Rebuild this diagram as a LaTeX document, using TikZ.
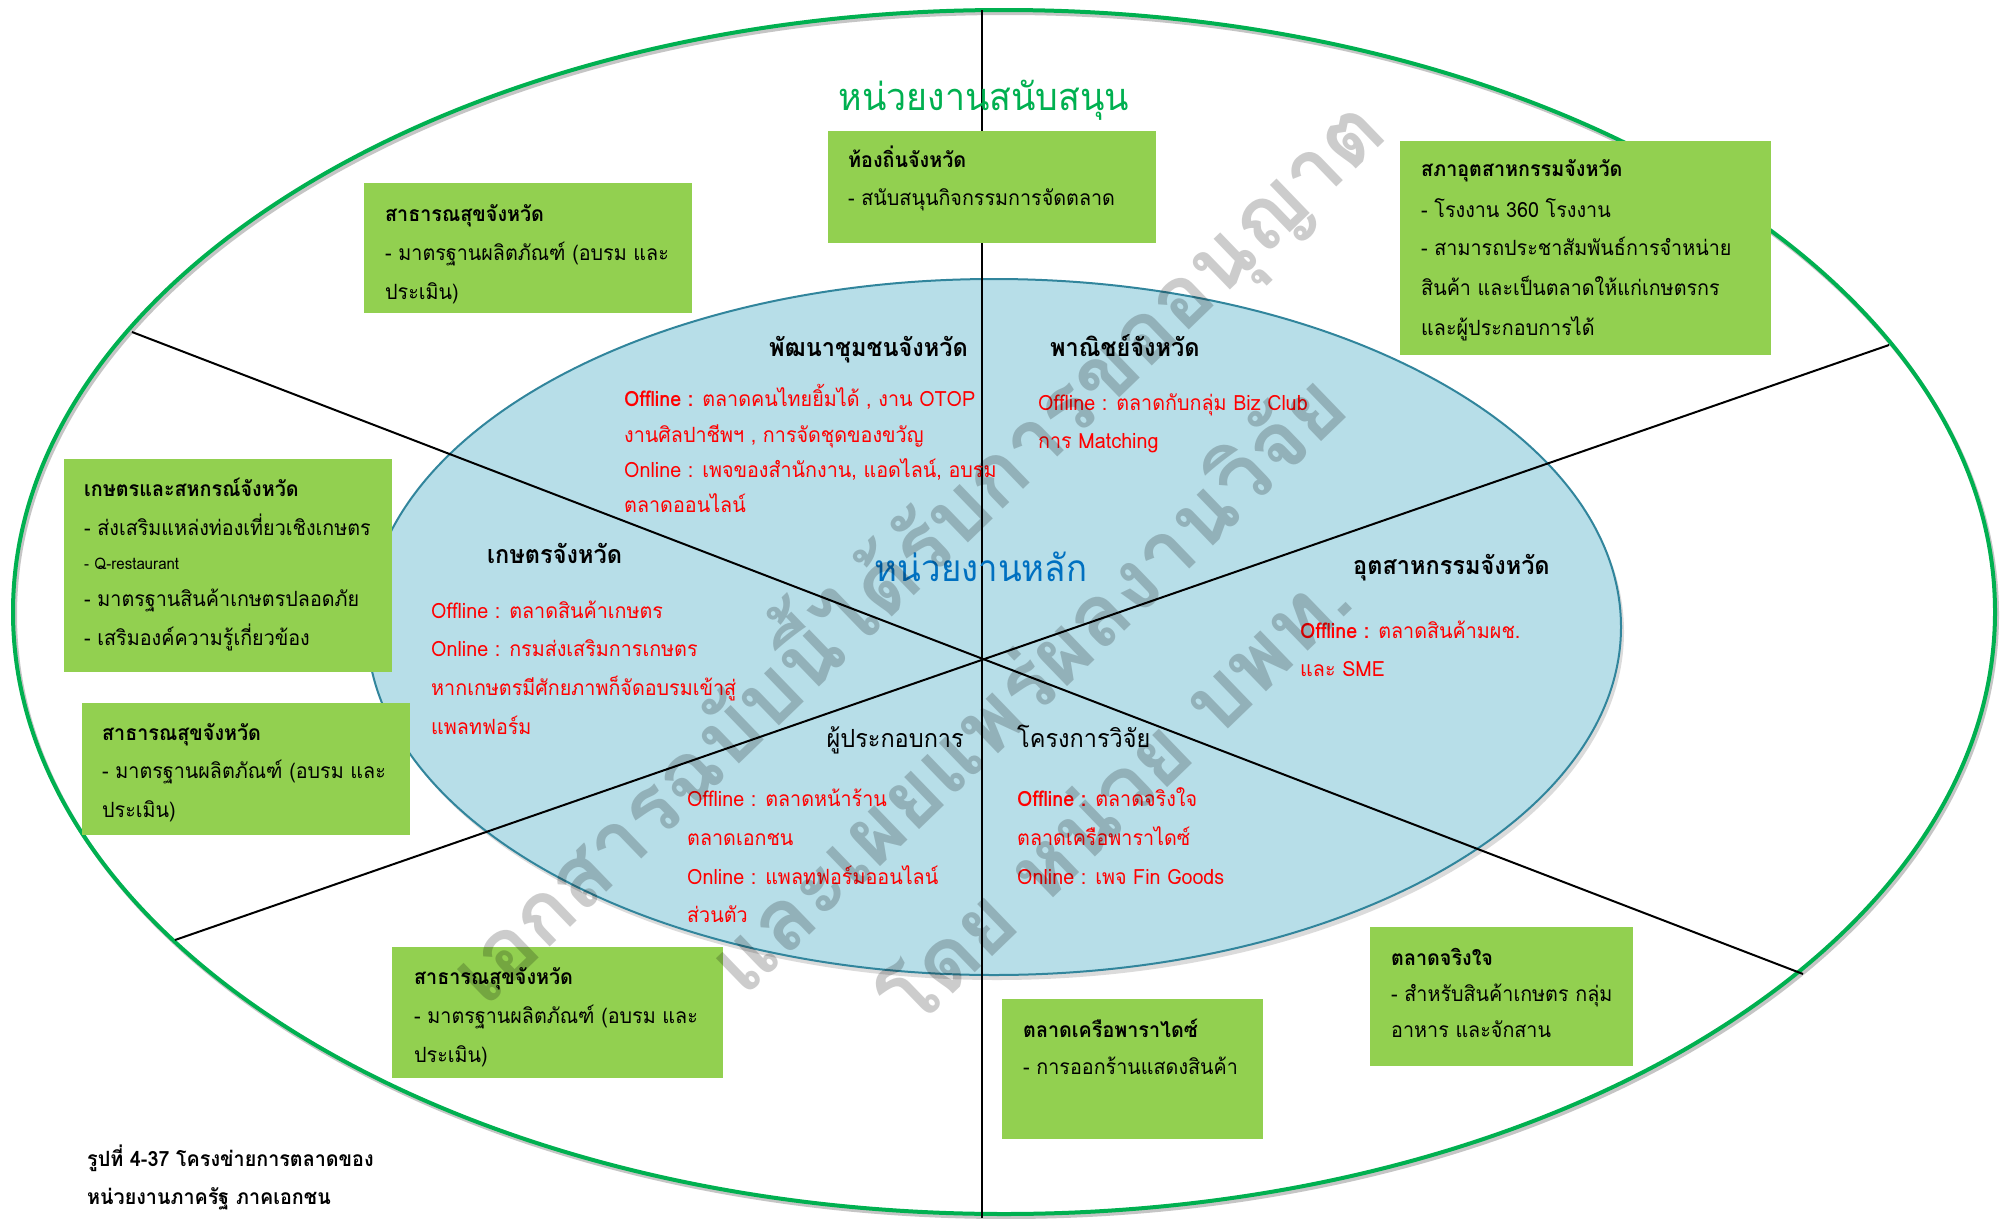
\documentclass[tikz,border=0pt]{standalone}
\usepackage{fontspec}
\setmainfont[Script=Thai, FakeStretch=0.94]{Loma}
\newfontfamily\markfont[Script=Thai]{Loma}
\definecolor{ringgreen}{RGB}{0,176,80}
\definecolor{boxgreen}{RGB}{146,208,80}
\definecolor{corefill}{RGB}{183,222,232}
\definecolor{coreline}{RGB}{49,133,156}
\definecolor{hubblue}{RGB}{0,112,192}
\definecolor{offred}{RGB}{255,0,0}
\tikzset{
  unitbox/.style={fill=boxgreen, draw=none, anchor=north west, inner sep=0pt},
  boxtitle/.style={anchor=base west, inner sep=0pt, font=\fontsize{21}{25}\selectfont\bfseries},
  boxline/.style={anchor=base west, inner sep=0pt, font=\fontsize{21}{25}\selectfont},
  smallline/.style={anchor=base west, inner sep=0pt, font=\fontsize{16}{20}\selectfont},
  corehead/.style={anchor=base west, inner sep=0pt, font=\fontsize{25}{30}\selectfont\bfseries},
  coreplain/.style={anchor=base west, inner sep=0pt, font=\fontsize{25}{30}\selectfont},
  redline/.style={anchor=base west, inner sep=0pt, text=offred, font=\fontsize{21}{25}\selectfont},
  caption/.style={anchor=base west, inner sep=0pt, font=\fontsize{21}{25}\selectfont\bfseries},
  stamp/.style={inner sep=0pt, rotate=44, text=black, text opacity=0.2, font=\markfont\bfseries\fontsize{86}{94}\selectfont},
  divider/.style={draw=black, line width=2pt},
}
\begin{document}
\begin{tikzpicture}[x=1pt,y=-1pt]
\useasboundingbox (0,0) rectangle (2005,1218);
\fill[white] (0,0) rectangle (2005,1218);

% outer ring of supporting agencies
\draw[black!45, opacity=0.5, line width=4pt] (1006,615) ellipse [x radius=991pt, y radius=602pt];
\draw[ringgreen, line width=4pt] (1004,612) ellipse [x radius=991pt, y radius=602pt];

% inner core of main agencies
\fill[black!40, opacity=0.35] (997,632) ellipse [x radius=627pt, y radius=348pt];
\filldraw[fill=corefill, draw=coreline, line width=2pt] (994,627) ellipse [x radius=627pt, y radius=348pt];

% sector dividers
\coordinate (topend) at (982,10);
\coordinate (botend) at (982,1218);
\coordinate (nwend) at (132,332);
\coordinate (seend) at (1803,974);
\coordinate (swend) at (175,940);
\coordinate (neend) at (1889,345);
\draw[black, line width=1.5pt] (topend) -- (botend);
\draw[divider] (nwend) -- (seend);
\draw[divider] (swend) -- (neend);

% ring title
\node[anchor=base, inner sep=0pt, text=ringgreen, font=\fontsize{38}{42}\selectfont] (ringtitle) at (984,110) {หน่วยงานสนับสนุน};

% supporting agency boxes
\node[unitbox, minimum width=328pt, minimum height=130pt] (health1) at (364,183) {};
\node[boxtitle] (health1t) at (385,221) {สาธารณสุขจังหวัด};
\node[boxline] (health1a) at (385,260) {- มาตรฐานผลิตภัณฑ์ (อบรม และ};
\node[boxline] (health1b) at (385,299) {ประเมิน)};

\node[unitbox, minimum width=328pt, minimum height=112pt] (local) at (828,131) {};
\node[boxtitle] (localt) at (848,167) {ท้องถิ่นจังหวัด};
\node[boxline] (locala) at (848,205) {- สนับสนุนกิจกรรมการจัดตลาด};

\node[unitbox, minimum width=371pt, minimum height=214pt] (fti) at (1400,141) {};
\node[boxtitle] (ftit) at (1421,176) {สภาอุตสาหกรรมจังหวัด};
\node[boxline] (ftia) at (1421,217) {- โรงงาน 360 โรงงาน};
\node[boxline] (ftib) at (1421,255) {- สามารถประชาสัมพันธ์การจำหน่าย};
\node[boxline] (ftic) at (1421,295) {สินค้า และเป็นตลาดให้แก่เกษตรกร};
\node[boxline] (ftid) at (1421,335) {และผู้ประกอบการได้};

\node[unitbox, minimum width=328pt, minimum height=213pt] (coop) at (64,459) {};
\node[boxtitle] (coopt) at (84,496) {เกษตรและสหกรณ์จังหวัด};
\node[boxline] (coopa) at (84,535) {- ส่งเสริมแหล่งท่องเที่ยวเชิงเกษตร};
\node[smallline] (coopb) at (84,569) {- Q-restaurant};
\node[boxline] (coopc) at (84,606) {- มาตรฐานสินค้าเกษตรปลอดภัย};
\node[boxline] (coopd) at (84,645) {- เสริมองค์ความรู้เกี่ยวข้อง};

\node[unitbox, minimum width=328pt, minimum height=132pt] (health2) at (82,703) {};
\node[boxtitle] (health2t) at (102,740) {สาธารณสุขจังหวัด};
\node[boxline] (health2a) at (102,778) {- มาตรฐานผลิตภัณฑ์ (อบรม และ};
\node[boxline] (health2b) at (102,817) {ประเมิน)};

\node[unitbox, minimum width=331pt, minimum height=131pt] (health3) at (392,947) {};
\node[boxtitle] (health3t) at (414,984) {สาธารณสุขจังหวัด};
\node[boxline] (health3a) at (414,1023) {- มาตรฐานผลิตภัณฑ์ (อบรม และ};
\node[boxline] (health3b) at (414,1062) {ประเมิน)};

\node[unitbox, minimum width=261pt, minimum height=140pt] (paradise) at (1002,999) {};
\node[boxtitle] (paradiset) at (1023,1037) {ตลาดเครือพาราไดซ์};
\node[boxline] (paradisea) at (1023,1074) {- การออกร้านแสดงสินค้า};

\node[unitbox, minimum width=263pt, minimum height=139pt] (jingjai) at (1370,927) {};
\node[boxtitle] (jingjait) at (1391,965) {ตลาดจริงใจ};
\node[boxline] (jingjaia) at (1391,1001) {- สำหรับสินค้าเกษตร กลุ่ม};
\node[boxline] (jingjaib) at (1391,1037) {อาหาร และจักสาน};

% core title
\node[anchor=base, inner sep=0pt, text=hubblue, font=\fontsize{37}{42}\selectfont] (coretitle) at (981,581) {หน่วยงานหลัก};

% community development
\node[corehead, anchor=base east] (cdh) at (968,356) {พัฒนาชุมชนจังหวัด};
\node[redline] (cd1) at (624,406) {\textbf{Offline :} ตลาดคนไทยยิ้มได้ , งาน OTOP};
\node[redline] (cd2) at (624,442) {งานศิลปาชีพฯ , การจัดชุดของขวัญ};
\node[redline] (cd3) at (624,477) {Online : เพจของสำนักงาน, แอดไลน์, อบรม};
\node[redline] (cd4) at (624,512) {ตลาดออนไลน์};

% commerce
\node[corehead] (comh) at (1050,356) {พาณิชย์จังหวัด};
\node[redline] (com1) at (1038,410) {Offline : ตลาดกับกลุ่ม Biz Club};
\node[redline] (com2) at (1038,448) {การ Matching};

% agriculture
\node[corehead] (agh) at (487,563) {เกษตรจังหวัด};
\node[redline] (ag1) at (431,618) {Offline : ตลาดสินค้าเกษตร};
\node[redline] (ag2) at (431,656) {Online : กรมส่งเสริมการเกษตร};
\node[redline] (ag3) at (431,695) {หากเกษตรมีศักยภาพก็จัดอบรมเข้าสู่};
\node[redline] (ag4) at (431,734) {แพลทฟอร์ม};

% industry
\node[corehead] (indh) at (1353,574) {อุตสาหกรรมจังหวัด};
\node[redline] (ind1) at (1300,638) {\textbf{Offline :} ตลาดสินค้ามผช.};
\node[redline] (ind2) at (1300,676) {และ SME};

% entrepreneurs
\node[coreplain, anchor=base east] (enth) at (964,747) {ผู้ประกอบการ};
\node[redline] (ent1) at (687,806) {Offline : ตลาดหน้าร้าน};
\node[redline] (ent2) at (687,845) {ตลาดเอกชน};
\node[redline] (ent3) at (687,884) {Online : แพลทฟอร์มออนไลน์};
\node[redline] (ent4) at (687,922) {ส่วนตัว};

% research project
\node[coreplain] (resh) at (1017,747) {โครงการวิจัย};
\node[redline] (res1) at (1017,806) {\textbf{Offline :} ตลาดจริงใจ};
\node[redline] (res2) at (1017,845) {ตลาดเครือพาราไดซ์};
\node[redline] (res3) at (1017,884) {Online : เพจ Fin Goods};

% figure caption
\node[caption] (cap1) at (87,1166) {รูปที่ 4-37 โครงข่ายการตลาดของ};
\node[caption] (cap2) at (87,1204) {หน่วยงานภาครัฐ ภาคเอกชน};

% diagonal stamp across the picture
\node[stamp] (stamp1) at (914,548) {เอกสารฉบับนี้ได้รับการขออนุญาต};
\node[stamp] (stamp2) at (1024,680) {และเผยแพร่ผลงานวิจัย};
\node[stamp] (stamp3) at (1112,795) {โดย หน่วย บพท.};
\end{tikzpicture}
\end{document}
